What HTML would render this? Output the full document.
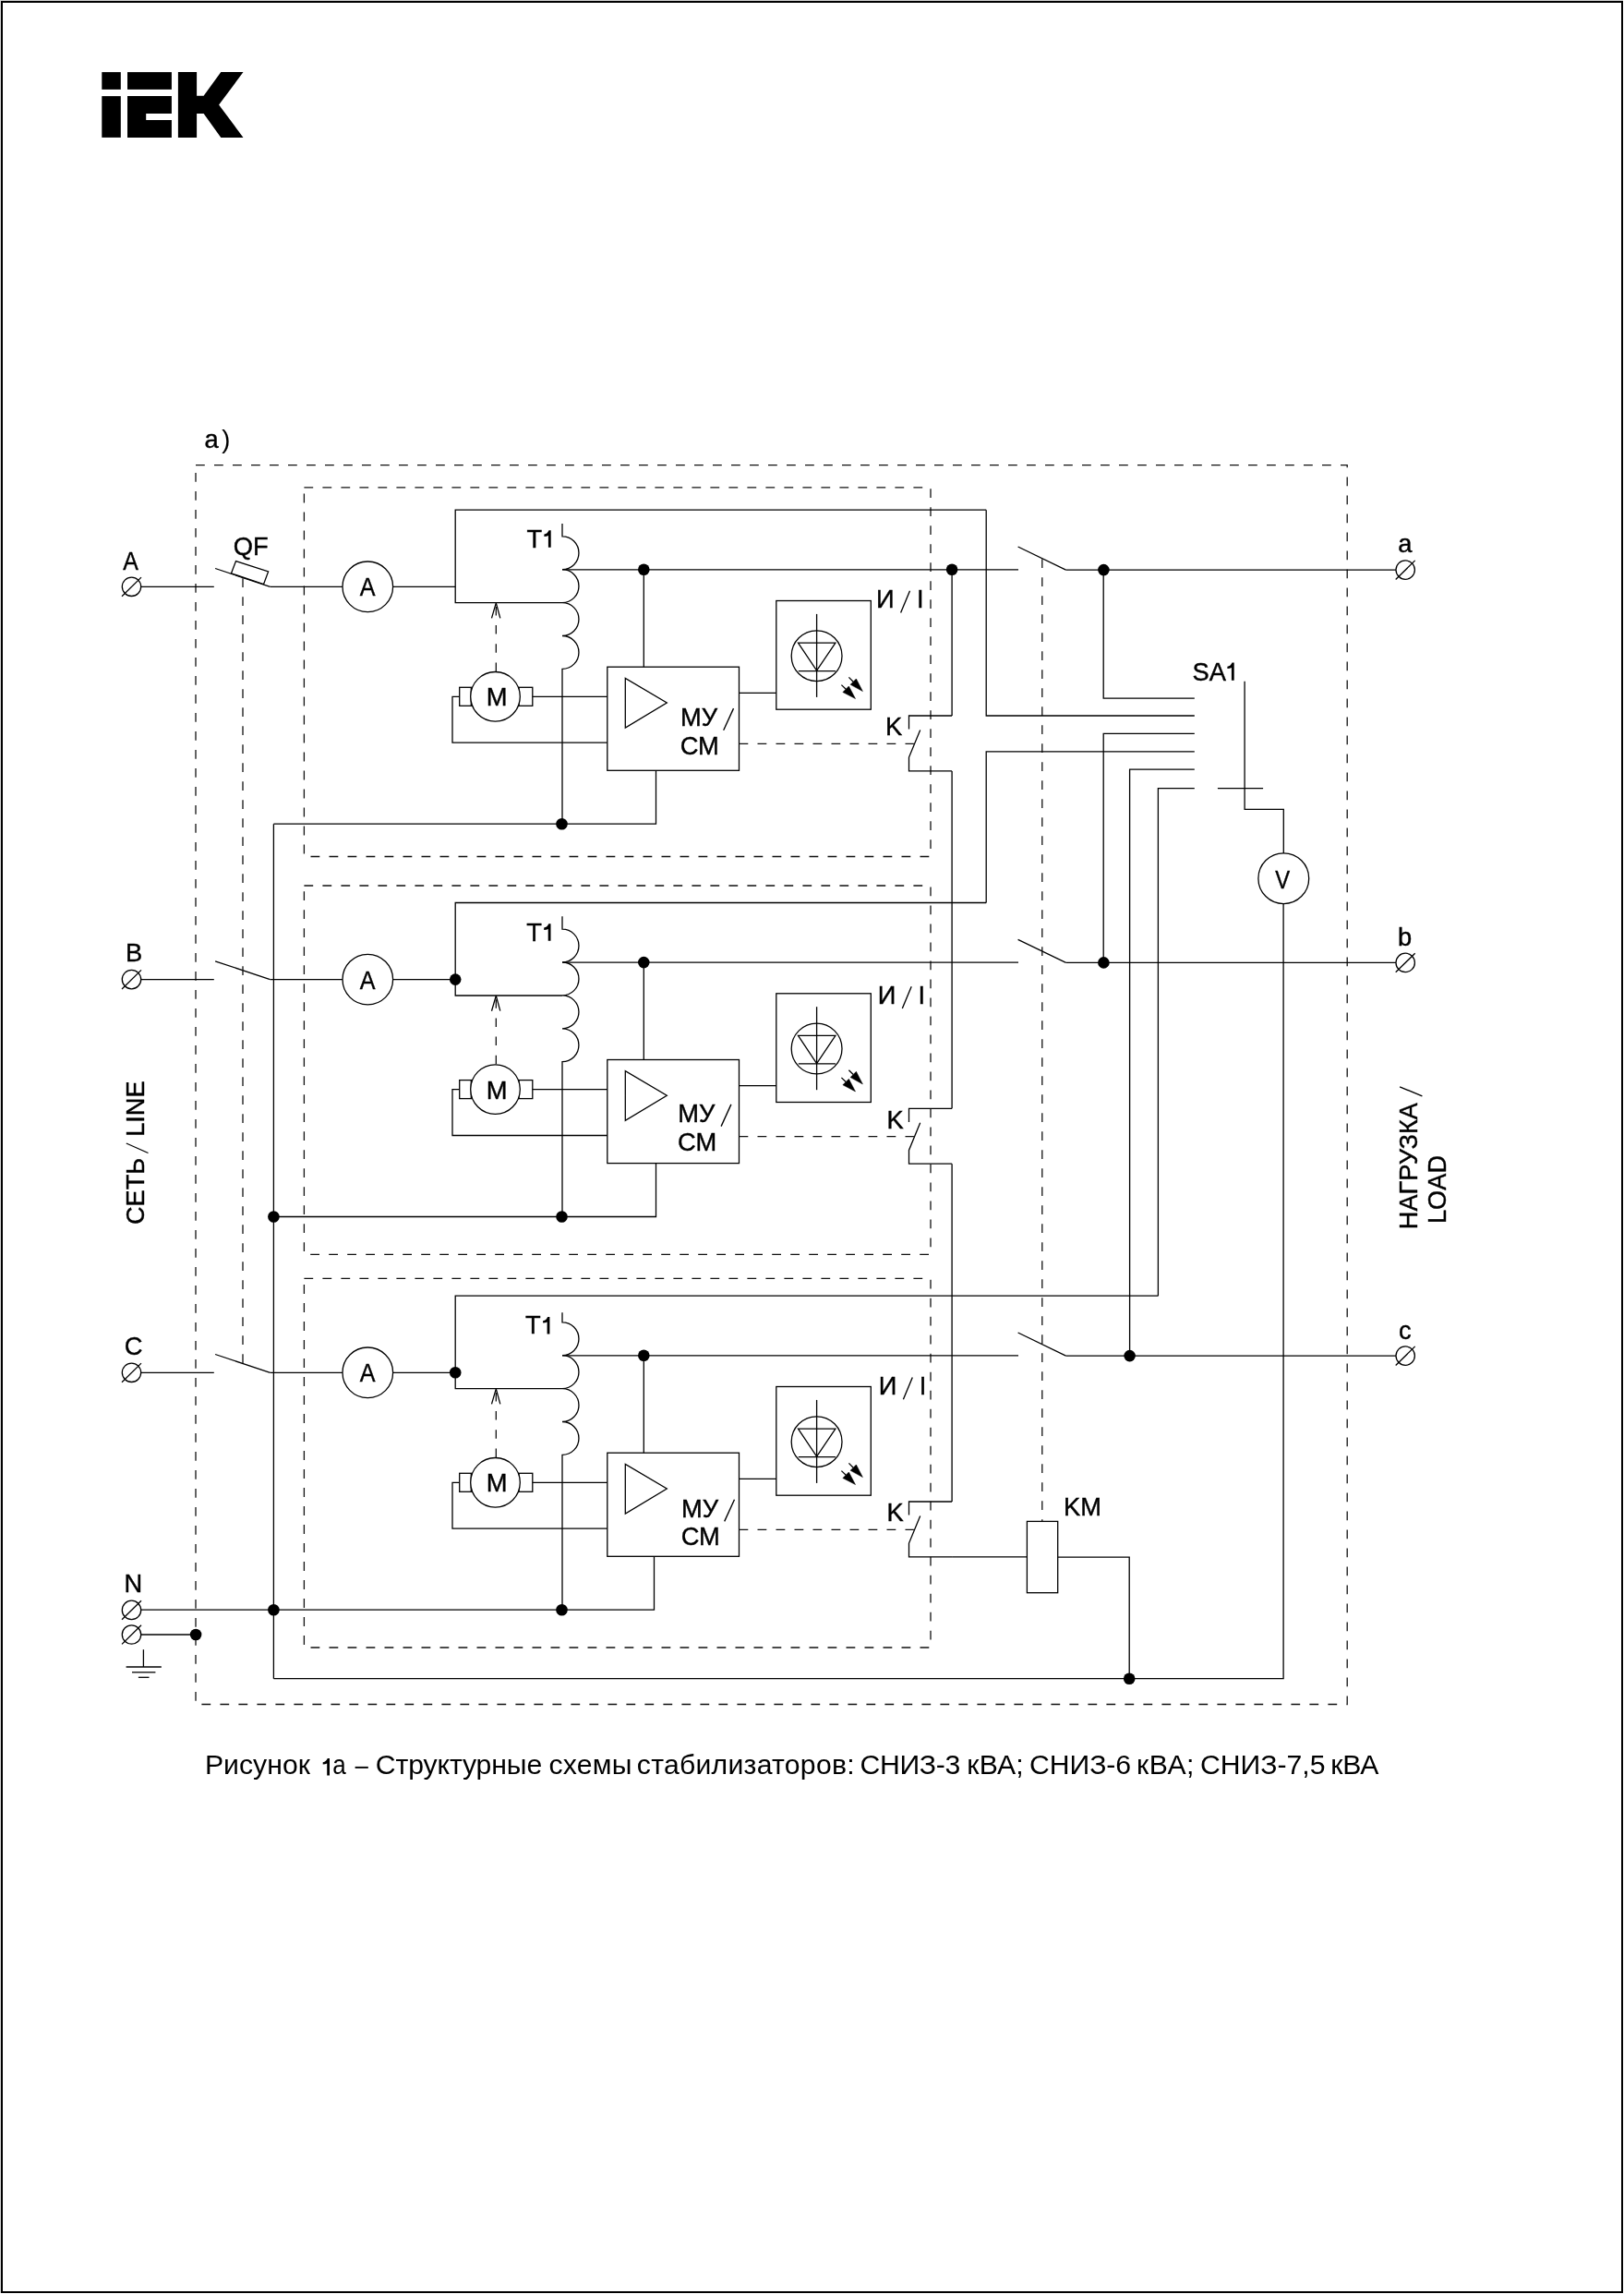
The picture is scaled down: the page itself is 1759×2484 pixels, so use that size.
<!DOCTYPE html>
<html><head><meta charset="utf-8"><title>Схема</title>
<style>html,body{margin:0;padding:0;background:#fff;width:1759px;height:2484px;overflow:hidden;position:relative;font-family:"Liberation Sans",sans-serif}</style>
</head><body>
<svg width="1759" height="2484" viewBox="0 0 1759 2484" style="position:absolute;left:0;top:0;will-change:transform">
<style>.s line,.s path,.s circle,.s rect,.s polygon{fill:none;stroke:#000;stroke-width:1.3} .s .d{stroke:#111;stroke-dasharray:9.8 10.2;} text{font-family:"Liberation Sans",sans-serif;fill:#000;stroke:#000;stroke-width:0.4}</style>
<rect x="0" y="0" width="1759" height="2484" fill="#fff"/>
<path d="M2,2.0 H1757 V2482 H2 Z" fill="none" stroke="#000" stroke-width="2"/>
<rect x="0" y="0" width="1758" height="1" fill="#d4d4d4"/><rect x="0" y="0" width="1" height="2483" fill="#d4d4d4"/>
<g fill="#000">
<rect x="110.3" y="78.1" width="20.5" height="18.8"/>
<rect x="110.3" y="104.1" width="20.5" height="44.8"/>
<rect x="138" y="78.1" width="47.9" height="18.8"/>
<path d="M138,104.1 H185.9 V123 H158.2 V129.9 H185.9 V148.9 H138 Z"/>
<path d="M192.9,78.1 H213.1 V103.8 H220.6 L239.3,78.1 H263.5 L237.1,113.6 L263.5,148.9 H239.3 L220.6,123 H213.1 V148.9 H192.9 Z"/>
</g>
<g class="s">
<text x="221.4" y="485" font-size="27.3" text-anchor="start">a</text>
<text x="240.3" y="485" font-size="27.3" text-anchor="start" style="stroke-width:0.1">)</text>
<rect class="d" x="212" y="503.7" width="1247.2" height="1341.8"/>
<rect class="d" x="329.4" y="527.8" width="678.6" height="399.7"/>
<circle cx="142.5" cy="635.3" r="10.2"/>
<line x1="132" y1="645.7" x2="153" y2="625.1"/>
<text x="0" y="0" font-size="27.3" text-anchor="start" transform="translate(133.33,616.80) scale(0.91,1)">A</text>
<line x1="152.7" y1="635.3" x2="231.8" y2="635.3"/>
<line x1="233.1" y1="615.5" x2="292.6" y2="635.3"/>
<line x1="292.6" y1="635.3" x2="371" y2="635.3"/>
<circle cx="398.3" cy="635.3" r="27.3" style="fill:#fff"/>
<text x="0" y="0" font-size="27.3" text-anchor="start" transform="translate(389.73,645.30) scale(0.92,1)">A</text>
<line x1="425.6" y1="635.3" x2="493.2" y2="635.3"/>
<path d="M1068.2,552.2 H493.2 V652.7 H609"/>
<path d="M609,567 V580.8 A17.95,17.95 0 0 1 609,616.7 A17.95,17.95 0 0 1 609,652.6 A17.95,17.95 0 0 1 609,688.5 A17.95,17.95 0 0 1 609,724.4 V892.2"/>
<text x="570.4" y="592.8" font-size="27.3" text-anchor="start">T</text>
<path d="M596.7,574.3 V592.8 H593.9 V579.9 Q592.1,580.7 589.4,580.9 V578.6 Q593.1,577.9 594.5,574.3 Z" style="fill:#000;stroke:none"/>
<line x1="609" y1="616.8" x2="1103" y2="616.8"/>
<circle cx="697.3" cy="616.8" r="6.3" style="fill:#000;stroke:none"/>
<circle cx="1031.1" cy="616.8" r="6.3" style="fill:#000;stroke:none"/>
<line x1="697.3" y1="616.8" x2="697.3" y2="722.2"/>
<rect x="657.8" y="722.2" width="142.7" height="112.1"/>
<polygon points="677.3,734.4 677.3,788 722.3,761"/>
<text x="736.9" y="785.9" font-size="27.3" text-anchor="start">МУ</text>
<line x1="783.7" y1="790.8" x2="794.5" y2="767.1" style="stroke-width:1.35"/>
<text x="736.7" y="816.7" font-size="27.3" text-anchor="start">СМ</text>
<rect x="497.7" y="744.3" width="12.6" height="20"/>
<rect x="562" y="744.3" width="14.8" height="20"/>
<circle cx="536.5" cy="754.3" r="26.8" style="fill:#fff"/>
<text x="526.7" y="764.3" font-size="27.3" text-anchor="start">M</text>
<path d="M497.7,754.3 H490 V804.2 H657.8 M576.8,754.3 H657.8"/>
<line class="d" x1="537.3" y1="727" x2="537.3" y2="652.9" style="stroke-dasharray:9.5 10.7"/>
<path d="M532.5,669.4 L537.3,652.9 L541.8,669.4" style="stroke-linejoin:bevel"/>
<path d="M296.4,892.2 H710.5 V834.3"/>
<circle cx="608.5" cy="892.2" r="6.3" style="fill:#000;stroke:none"/>
<rect x="840.8" y="650.5" width="102.5" height="117.7"/>
<line x1="800.5" y1="750.4" x2="840.8" y2="750.4"/>
<circle cx="884.6" cy="710.2" r="27.4"/>
<line x1="884.6" y1="664.9" x2="884.6" y2="754.9"/>
<polygon points="864.5,696.1 904.9,696.1 884.6,726.2"/>
<line x1="864.8" y1="726.6" x2="904.9" y2="726.6"/>
<line x1="919.4" y1="733.4" x2="924.2" y2="738.2"/>
<polygon points="927.4,735 921.1,741.3 934.4,748.6" style="fill:#000;stroke:#000;stroke-width:0.5"/>
<line x1="911.4" y1="741.6" x2="916.2" y2="746.2"/>
<polygon points="919.4,743 912.9,749.5 926.5,756.6" style="fill:#000;stroke:#000;stroke-width:0.5"/>
<text x="949" y="658.4" font-size="27.3" text-anchor="start">И</text>
<line x1="975.6" y1="663.4" x2="985.5" y2="639.7" style="stroke-width:1.35"/>
<text x="992.9" y="658.4" font-size="27.3" text-anchor="start">I</text>
<line class="d" x1="800.5" y1="805.3" x2="989.9" y2="805.3" stroke-dashoffset="0"/>
<path d="M984.5,789.6 V775 H1031.1"/>
<path d="M996.7,790.5 L984.5,820.1 V834.9 H1031.1"/>
<text x="958.9" y="795.9" font-size="27.3" text-anchor="start">K</text>
<line x1="1102.6" y1="592" x2="1154.5" y2="617.1"/>
<line x1="1154.5" y1="617.1" x2="1512" y2="617.1"/>
<circle cx="1522.2" cy="617.1" r="10.2"/>
<line x1="1511.7" y1="627.5" x2="1532.7" y2="606.9"/>
<text x="1514.2" y="598.4" font-size="27.3" text-anchor="start">a</text>
<rect class="d" x="329.4" y="959" width="678.6" height="399.4"/>
<circle cx="142.5" cy="1060.6" r="10.2"/>
<line x1="132" y1="1071" x2="153" y2="1050.4"/>
<text x="136.1" y="1040.8" font-size="27.3" text-anchor="start">B</text>
<line x1="152.7" y1="1060.6" x2="231.8" y2="1060.6"/>
<line x1="233.1" y1="1040.8" x2="292.6" y2="1060.6"/>
<line x1="292.6" y1="1060.6" x2="371" y2="1060.6"/>
<circle cx="398.3" cy="1060.6" r="27.3" style="fill:#fff"/>
<text x="0" y="0" font-size="27.3" text-anchor="start" transform="translate(389.73,1070.60) scale(0.92,1)">A</text>
<line x1="425.6" y1="1060.6" x2="493.2" y2="1060.6"/>
<circle cx="493.2" cy="1060.6" r="6.3" style="fill:#000;stroke:none"/>
<path d="M1068.2,977.5 H493.2 V1078 H609"/>
<path d="M609,992.3 V1006.1 A17.95,17.95 0 0 1 609,1042 A17.95,17.95 0 0 1 609,1077.9 A17.95,17.95 0 0 1 609,1113.8 A17.95,17.95 0 0 1 609,1149.7 V1317.5"/>
<text x="570.2" y="1018.8" font-size="27.3" text-anchor="start">T</text>
<path d="M596.5,1000.3 V1018.8 H593.7 V1005.9 Q591.9,1006.7 589.2,1006.9 V1004.6 Q592.9,1003.9 594.3,1000.3 Z" style="fill:#000;stroke:none"/>
<line x1="609" y1="1042.1" x2="1103" y2="1042.1"/>
<circle cx="697.3" cy="1042.1" r="6.3" style="fill:#000;stroke:none"/>
<line x1="697.3" y1="1042.1" x2="697.3" y2="1147.5"/>
<rect x="657.8" y="1147.5" width="142.7" height="112.1"/>
<polygon points="677.3,1159.7 677.3,1213.3 722.3,1186.3"/>
<text x="734.3" y="1214.7" font-size="27.3" text-anchor="start">МУ</text>
<line x1="781.1" y1="1219.6" x2="791.9" y2="1195.9" style="stroke-width:1.35"/>
<text x="734.1" y="1245.5" font-size="27.3" text-anchor="start">СМ</text>
<rect x="497.7" y="1169.6" width="12.6" height="20"/>
<rect x="562" y="1169.6" width="14.8" height="20"/>
<circle cx="536.5" cy="1179.6" r="26.8" style="fill:#fff"/>
<text x="526.7" y="1189.6" font-size="27.3" text-anchor="start">M</text>
<path d="M497.7,1179.6 H490 V1229.5 H657.8 M576.8,1179.6 H657.8"/>
<line class="d" x1="537.3" y1="1152.3" x2="537.3" y2="1078.2" style="stroke-dasharray:9.5 10.7"/>
<path d="M532.5,1094.7 L537.3,1078.2 L541.8,1094.7" style="stroke-linejoin:bevel"/>
<path d="M296.4,1317.5 H710.5 V1259.6"/>
<circle cx="608.5" cy="1317.5" r="6.3" style="fill:#000;stroke:none"/>
<rect x="840.8" y="1075.8" width="102.5" height="117.7"/>
<line x1="800.5" y1="1175.7" x2="840.8" y2="1175.7"/>
<circle cx="884.6" cy="1135.5" r="27.4"/>
<line x1="884.6" y1="1090.2" x2="884.6" y2="1180.2"/>
<polygon points="864.5,1121.4 904.9,1121.4 884.6,1151.5"/>
<line x1="864.8" y1="1151.9" x2="904.9" y2="1151.9"/>
<line x1="919.4" y1="1158.7" x2="924.2" y2="1163.5"/>
<polygon points="927.4,1160.3 921.1,1166.6 934.4,1173.9" style="fill:#000;stroke:#000;stroke-width:0.5"/>
<line x1="911.4" y1="1166.9" x2="916.2" y2="1171.5"/>
<polygon points="919.4,1168.3 912.9,1174.8 926.5,1181.9" style="fill:#000;stroke:#000;stroke-width:0.5"/>
<text x="950.7" y="1086.9" font-size="27.3" text-anchor="start">И</text>
<line x1="977.3" y1="1091.9" x2="987.2" y2="1068.2" style="stroke-width:1.35"/>
<text x="994.6" y="1086.9" font-size="27.3" text-anchor="start">I</text>
<line class="d" x1="800.5" y1="1230.6" x2="989.9" y2="1230.6" stroke-dashoffset="0"/>
<path d="M984.5,1214.9 V1200.3 H1031.1"/>
<path d="M996.7,1215.8 L984.5,1245.4 V1260.2 H1031.1"/>
<text x="960.6" y="1221.5" font-size="27.3" text-anchor="start">K</text>
<line x1="1102.6" y1="1017.3" x2="1154.5" y2="1042.4"/>
<line x1="1154.5" y1="1042.4" x2="1512" y2="1042.4"/>
<circle cx="1522.2" cy="1042.4" r="10.2"/>
<line x1="1511.7" y1="1052.8" x2="1532.7" y2="1032.2"/>
<text x="1513.9" y="1024" font-size="27.3" text-anchor="start">b</text>
<rect class="d" x="329.4" y="1384.3" width="678.6" height="399.7"/>
<circle cx="142.5" cy="1486.3" r="10.2"/>
<line x1="132" y1="1496.7" x2="153" y2="1476.1"/>
<text x="134.7" y="1466.6" font-size="27.3" text-anchor="start">C</text>
<line x1="152.7" y1="1486.3" x2="231.8" y2="1486.3"/>
<line x1="233.1" y1="1466.5" x2="292.6" y2="1486.3"/>
<line x1="292.6" y1="1486.3" x2="371" y2="1486.3"/>
<circle cx="398.3" cy="1486.3" r="27.3" style="fill:#fff"/>
<text x="0" y="0" font-size="27.3" text-anchor="start" transform="translate(389.73,1496.30) scale(0.92,1)">A</text>
<line x1="425.6" y1="1486.3" x2="493.2" y2="1486.3"/>
<circle cx="493.2" cy="1486.3" r="6.3" style="fill:#000;stroke:none"/>
<path d="M1254.4,1403.2 H493.2 V1503.7 H609"/>
<path d="M609,1421.3 V1431.8 A17.95,17.95 0 0 1 609,1467.7 A17.95,17.95 0 0 1 609,1503.6 A17.95,17.95 0 0 1 609,1539.5 A17.95,17.95 0 0 1 609,1575.4 V1743.2"/>
<text x="569.1" y="1444.4" font-size="27.3" text-anchor="start">T</text>
<path d="M595.4,1425.9 V1444.4 H592.6 V1431.5 Q590.8,1432.3 588.1,1432.5 V1430.2 Q591.8,1429.5 593.2,1425.9 Z" style="fill:#000;stroke:none"/>
<line x1="609" y1="1467.8" x2="1103" y2="1467.8"/>
<circle cx="697.3" cy="1467.8" r="6.3" style="fill:#000;stroke:none"/>
<line x1="697.3" y1="1467.8" x2="697.3" y2="1573.2"/>
<rect x="657.8" y="1573.2" width="142.7" height="112.1"/>
<polygon points="677.3,1585.4 677.3,1639 722.3,1612"/>
<text x="737.9" y="1642.5" font-size="27.3" text-anchor="start">МУ</text>
<line x1="784.7" y1="1647.4" x2="795.5" y2="1623.7" style="stroke-width:1.35"/>
<text x="737.7" y="1673.3" font-size="27.3" text-anchor="start">СМ</text>
<rect x="497.7" y="1595.3" width="12.6" height="20"/>
<rect x="562" y="1595.3" width="14.8" height="20"/>
<circle cx="536.5" cy="1605.3" r="26.8" style="fill:#fff"/>
<text x="526.7" y="1615.3" font-size="27.3" text-anchor="start">M</text>
<path d="M497.7,1605.3 H490 V1655.2 H657.8 M576.8,1605.3 H657.8"/>
<line class="d" x1="537.3" y1="1578" x2="537.3" y2="1503.9" style="stroke-dasharray:9.5 10.7"/>
<path d="M532.5,1520.4 L537.3,1503.9 L541.8,1520.4" style="stroke-linejoin:bevel"/>
<path d="M152.7,1743.2 H708.5 V1685.3"/>
<circle cx="608.5" cy="1743.2" r="6.3" style="fill:#000;stroke:none"/>
<rect x="840.8" y="1501.5" width="102.5" height="117.7"/>
<line x1="800.5" y1="1601.4" x2="840.8" y2="1601.4"/>
<circle cx="884.6" cy="1561.2" r="27.4"/>
<line x1="884.6" y1="1515.9" x2="884.6" y2="1605.9"/>
<polygon points="864.5,1547.1 904.9,1547.1 884.6,1577.2"/>
<line x1="864.8" y1="1577.6" x2="904.9" y2="1577.6"/>
<line x1="919.4" y1="1584.4" x2="924.2" y2="1589.2"/>
<polygon points="927.4,1586 921.1,1592.3 934.4,1599.6" style="fill:#000;stroke:#000;stroke-width:0.5"/>
<line x1="911.4" y1="1592.6" x2="916.2" y2="1597.2"/>
<polygon points="919.4,1594 912.9,1600.5 926.5,1607.6" style="fill:#000;stroke:#000;stroke-width:0.5"/>
<text x="951.8" y="1510.2" font-size="27.3" text-anchor="start">И</text>
<line x1="978.4" y1="1515.2" x2="988.3" y2="1491.5" style="stroke-width:1.35"/>
<text x="995.7" y="1510.2" font-size="27.3" text-anchor="start">I</text>
<line class="d" x1="800.5" y1="1656.3" x2="989.9" y2="1656.3" stroke-dashoffset="0"/>
<path d="M984.5,1640.6 V1626 H1031.1"/>
<path d="M996.7,1641.5 L984.5,1671.1 V1685.9 H1031.1"/>
<text x="960.6" y="1646.5" font-size="27.3" text-anchor="start">K</text>
<line x1="1102.6" y1="1443" x2="1154.5" y2="1468.1"/>
<line x1="1154.5" y1="1468.1" x2="1512" y2="1468.1"/>
<circle cx="1522.2" cy="1468.1" r="10.2"/>
<line x1="1511.7" y1="1478.5" x2="1532.7" y2="1457.9"/>
<text x="1515.1" y="1449.5" font-size="27.3" text-anchor="start">c</text>
<line x1="1031.1" y1="617.1" x2="1031.1" y2="775"/>
<line x1="1031.1" y1="834.9" x2="1031.1" y2="1200.3"/>
<line x1="1031.1" y1="1260.2" x2="1031.1" y2="1626"/>
<path d="M1031.1,1685.9 H1112.4"/>
<polygon points="250.5,620.8 255.5,607.6 290.6,618.9 285.6,632.5" style="fill:#fff"/>
<text x="252.7" y="600.5" font-size="27.3" text-anchor="start">QF</text>
<line class="d" x1="263" y1="626.3" x2="263" y2="1476.4" stroke-dashoffset="0"/>
<line class="d" x1="1128.8" y1="605.3" x2="1128.8" y2="1647.4"/>
<line x1="296.4" y1="892.2" x2="296.4" y2="1817.7"/>
<circle cx="296.4" cy="1317.5" r="6.3" style="fill:#000;stroke:none"/>
<circle cx="296.4" cy="1743.2" r="6.3" style="fill:#000;stroke:none"/>
<circle cx="142.5" cy="1743.4" r="10.2"/>
<line x1="132" y1="1753.8" x2="153" y2="1733.2"/>
<circle cx="142.5" cy="1770" r="10.2"/>
<line x1="132" y1="1780.4" x2="153" y2="1759.8"/>
<text x="134.6" y="1723.8" font-size="27.3" text-anchor="start">N</text>
<line x1="152.7" y1="1770" x2="212.1" y2="1770"/>
<circle cx="212.1" cy="1770" r="6.3" style="fill:#000;stroke:none"/>
<g style="stroke-width:2.2">
<line x1="155.4" y1="1786.2" x2="155.4" y2="1805"/>
<line x1="136.6" y1="1805" x2="174.8" y2="1805"/>
<line x1="143" y1="1810.8" x2="168.4" y2="1810.8"/>
<line x1="149.9" y1="1816.3" x2="161.5" y2="1816.3"/>
</g>
<path d="M296.4,1817.7 H1390.1 V978.6"/>
<circle cx="1223.2" cy="1817.7" r="6.3" style="fill:#000;stroke:none"/>
<path d="M1145.7,1686.2 H1223.2 V1817.7"/>
<rect x="1112.4" y="1647.4" width="33.3" height="77.3"/>
<text x="1152" y="1641" font-size="27.3" text-anchor="start">KM</text>
<path d="M1195.2,617.1 V756.2 H1293.8"/>
<path d="M1068.2,552.2 V775 H1293.8"/>
<path d="M1195.2,1042.4 V794.3 H1293.8"/>
<path d="M1068.2,977.5 V813.8 H1293.8"/>
<path d="M1223.6,1468.1 V833.1 H1293.8"/>
<path d="M1254.4,1403.2 V853.7 H1293.8"/>
<circle cx="1195.4" cy="617.1" r="6.3" style="fill:#000;stroke:none"/>
<circle cx="1195.4" cy="1042.4" r="6.3" style="fill:#000;stroke:none"/>
<circle cx="1223.6" cy="1468.1" r="6.3" style="fill:#000;stroke:none"/>
<line x1="1318.9" y1="853.7" x2="1368.1" y2="853.7"/>
<path d="M1348.1,737.7 V876.3 H1390.3 V924"/>
<text x="1291.6" y="736.8" font-size="27.3" text-anchor="start">SA</text>
<path d="M1336.7,717.4 V736.8 H1333.9 V723 Q1332.1,723.8 1329.4,724 V721.7 Q1333.1,721 1334.5,717.4 Z" style="fill:#000;stroke:none"/>
<circle cx="1390.3" cy="951.2" r="27.4"/>
<text x="0" y="0" font-size="27.3" text-anchor="start" transform="translate(1381.37,961.50) scale(0.87,1)">V</text>
<text x="-1.2" y="0" font-size="27.2" text-anchor="start" transform="translate(156.2,1324.9) rotate(-90)">СЕТЬ</text>
<line x1="160.5" y1="1248.5" x2="136.8" y2="1238" style="stroke-width:1.35"/>
<text x="-2" y="0" font-size="27.2" text-anchor="start" transform="translate(156.2,1228.8) rotate(-90)">LINE</text>
<text x="-2" y="0" font-size="27.2" text-anchor="start" transform="translate(1535,1329.2) rotate(-90)">НАГРУЗКА</text>
<line x1="1540.4" y1="1186.9" x2="1516.1" y2="1176.8" style="stroke-width:1.35"/>
<text x="-2" y="0" font-size="27.2" text-anchor="start" transform="translate(1566.2,1323) rotate(-90)">LOAD</text>
<text x="221.9" y="1921.4" font-size="30.2" text-anchor="start" style="stroke-width:0" letter-spacing="0.033">Рисунок</text>
<text x="0" y="0" font-size="30.2" text-anchor="start" style="stroke-width:0" transform="translate(360.37,1921.40) scale(0.86,1)">а</text>
<text x="406.8" y="1921.4" font-size="30.2" text-anchor="start" style="stroke-width:0" letter-spacing="-0.120">Структурные</text>
<text x="594.5" y="1921.4" font-size="30.2" text-anchor="start" style="stroke-width:0" letter-spacing="0.200">схемы</text>
<text x="689.8" y="1921.4" font-size="30.2" text-anchor="start" style="stroke-width:0" letter-spacing="0.257">стабилизаторов:</text>
<text x="931.4" y="1921.4" font-size="30.2" text-anchor="start" style="stroke-width:0" letter-spacing="-0.280">СНИЗ-3</text>
<text x="1047.3" y="1921.4" font-size="30.2" text-anchor="start" style="stroke-width:0" letter-spacing="0.200">кВА;</text>
<text x="1115.1" y="1921.4" font-size="30.2" text-anchor="start" style="stroke-width:0" letter-spacing="-0.080">СНИЗ-6</text>
<text x="1231" y="1921.4" font-size="30.2" text-anchor="start" style="stroke-width:0" letter-spacing="0.533">кВА;</text>
<text x="1300" y="1921.4" font-size="30.2" text-anchor="start" style="stroke-width:0">СНИЗ-7,5</text>
<text x="1441.3" y="1921.4" font-size="30.2" text-anchor="start" style="stroke-width:0" letter-spacing="-0.200">кВА</text>
<path d="M357,1904 V1922.4 H354.2 V1909.6 Q352.4,1910.4 349.7,1910.6 V1908.3 Q353.4,1907.6 354.8,1904 Z" style="fill:#000;stroke:none"/>
<rect x="384.6" y="1912.9" width="14.2" height="1.9" style="fill:#000;stroke:none"/>
</g>
</svg>
</body></html>
